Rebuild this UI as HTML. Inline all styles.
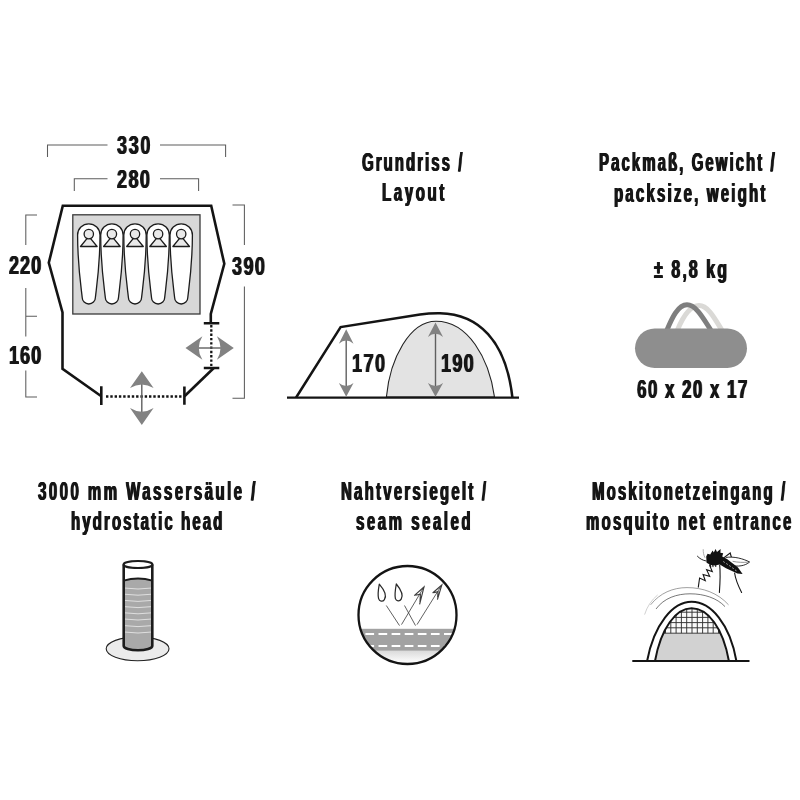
<!DOCTYPE html>
<html lang="de">
<head>
<meta charset="utf-8">
<title>Zelt – Grundriss / Layout</title>
<style>
html,body{margin:0;padding:0;background:#fff;}
body{width:800px;height:800px;overflow:hidden;position:relative;}
svg{position:absolute;left:0;top:0;display:block;}
.t{position:absolute;margin:0;white-space:nowrap;font-family:"Liberation Sans",sans-serif;font-weight:bold;color:#161616;font-size:24px;line-height:24px;transform-origin:0 0;will-change:transform;}
.dim{stroke:#5c5c5c;stroke-width:1.05;fill:none;}
.tent{stroke:#141414;stroke-width:2.6;fill:none;stroke-linejoin:miter;stroke-linecap:butt;}
.dots{stroke:#141414;stroke-width:2.3;fill:none;stroke-dasharray:2.4 1.9;}
.arr{fill:#828282;}
.arl{stroke:#606060;stroke-width:1.4;fill:none;}
</style>
</head>
<body>
<svg width="800" height="800" viewBox="0 0 800 800">
<defs>
  <g id="bag">
    <path d="M0,11.2 A11.2,11.2 0 0 1 22.4,11.2 C22.4,40 19.6,58 17.8,73.6 A6.6,6.6 0 0 1 4.6,73.6 C2.8,58 0,40 0,11.2 Z" fill="#fff" stroke="#1c1c1c" stroke-width="1.3"/>
    <path d="M2.9,22.7 L11.2,12.6 L19.5,22.7 Z" fill="#e9e9e9" stroke="#1c1c1c" stroke-width="1.3" stroke-linejoin="round"/>
    <circle cx="11.2" cy="10.3" r="4.7" fill="#e9e9e9" stroke="#1c1c1c" stroke-width="1.3"/>
  </g>
  <path id="ah" d="M0,0 L11.8,16.9 Q0,9.6 -11.8,16.9 Z"/>
</defs>

<!-- ============ FLOOR PLAN ============ -->
<g id="floorplan">
  <!-- dimension brackets -->
  <path class="dim" d="M47.5,157 V145 H107.5 M160,145 H225.6 V157"/>
  <path class="dim" d="M74.3,191 V178.8 H107.5 M160,178.8 H198.6 V191"/>
  <path class="dim" d="M37,215 H25.8 V245 M25.8,288 V336.5 M25.8,316.3 H37 M25.8,370.5 V397 H37"/>
  <path class="dim" d="M232.5,205 H244.4 V245 M244.4,286.5 V398.2 H232.5"/>

  <!-- inner cabin -->
  <rect x="72.8" y="214.8" width="127.2" height="99.2" fill="#d8d8d8" stroke="#3a3a3a" stroke-width="1.3"/>
  <use href="#bag" x="77.6" y="223.8"/>
  <use href="#bag" x="100.7" y="223.8"/>
  <use href="#bag" x="123.8" y="223.8"/>
  <use href="#bag" x="146.9" y="223.8"/>
  <use href="#bag" x="170" y="223.8"/>

  <!-- tent outline -->
  <path class="tent" d="M101.3,396.3 L62.5,368.8 V312.5 L48.8,262.8 L62.8,205.8 H211.2 L224.3,263.8 L210.8,313.8 V323.3"/>
  <path class="tent" d="M213.8,368 L184.5,396.3"/>
  <path class="tent" d="M101.3,386.3 V405 M184.4,386.5 V404.8 M203.8,323.3 H219.3 M203.8,368 H219.3"/>
  <path class="dots" d="M106,396.5 H182"/>
  <path class="dots" d="M211.3,325 V367"/>
  <!-- arrows -->
  <path class="arl" d="M141.8,380 V416"/>
  <use href="#ah" class="arr" transform="translate(141.8,371.2)"/>
  <use href="#ah" class="arr" transform="translate(141.8,425) rotate(180)"/>
  <path class="arl" d="M196,348 H225"/>
  <use href="#ah" class="arr" transform="translate(185.5,348) rotate(-90)"/>
  <use href="#ah" class="arr" transform="translate(233.8,348) rotate(90)"/>
</g>

<!-- ============ SECTION ============ -->
<g id="section">
  <path d="M386.4,397 C390,358 410,321.2 436,321.2 C468,321.2 489,358 494.5,397 Z" fill="#e3e3e3" stroke="#222" stroke-width="1.1"/>
  <path class="tent" style="stroke-width:2.3" d="M287,397.6 H519"/>
  <path class="tent" style="stroke-width:2.5" d="M296.1,397.5 L340.6,327.1 L420,314.6 Q430,313 440,313.2 C478,314 506,340 512.4,397.5"/>
  <path class="arl" d="M346.2,338 V388"/>
  <use href="#ah" class="arr" transform="translate(346.2,329.2) scale(0.62,0.86)"/>
  <use href="#ah" class="arr" transform="translate(346.2,396.8) rotate(180) scale(0.62,0.82)"/>
  <path class="arl" d="M435.5,332 V388"/>
  <use href="#ah" class="arr" transform="translate(435.5,322.4) scale(0.64,0.86)"/>
  <use href="#ah" class="arr" transform="translate(435.5,396.8) rotate(180) scale(0.64,0.82)"/>
</g>

<!-- ============ PACK SIZE ============ -->
<g id="pack">
  <path d="M677.5,330 C682.5,318 690,305.6 699,305.6 C708,305.6 714.5,318 721.8,330" fill="none" stroke="#dad9d6" stroke-width="5"/>
  <path d="M667,330 C672,318 678,304.8 687,304.8 C696,304.8 703,318 710.8,330" fill="none" stroke="#7e7e7e" stroke-width="5"/>
  <rect x="635" y="328.6" width="112" height="39.4" rx="19.7" ry="19.7" fill="#8e8e8e"/>
</g>

<!-- ============ HYDROSTATIC HEAD ============ -->
<g id="hydro">
  <ellipse cx="137.6" cy="648.8" rx="31.4" ry="11.9" fill="#ebebeb" stroke="#222" stroke-width="1.1"/>
  <path d="M123.5,580.5 Q138,576.5 152.5,580.5 V646 A14.5,4.2 0 0 1 123.5,646 Z" fill="#a9a9a9"/>
  <g stroke="#e4e4e4" stroke-width="0.9" fill="none">
    <path d="M124,588 Q138,590 152,588"/><path d="M124,594.2 Q138,596.2 152,594.2"/><path d="M124,600.4 Q138,602.4 152,600.4"/>
    <path d="M124,606.6 Q138,608.6 152,606.6"/><path d="M124,612.8 Q138,614.8 152,612.8"/><path d="M124,619 Q138,621 152,619"/>
    <path d="M124,625.6 Q138,627.6 152,625.6"/><path d="M124,632 Q138,634 152,632"/>
  </g>
  <path d="M123.6,580.6 Q138,576.4 152.4,580.6" fill="none" stroke="#1c1c1c" stroke-width="2"/>
  <path d="M123.7,564.5 V646 A14.3,4.2 0 0 0 152.3,646 V564.5" fill="none" stroke="#1c1c1c" stroke-width="2.6"/>
  <ellipse cx="138" cy="564.5" rx="14.4" ry="3.5" fill="#fff" stroke="#1c1c1c" stroke-width="2.2"/>
</g>

<!-- ============ SEAM SEALED ============ -->
<g id="seam">
  <clipPath id="cc"><circle cx="407.5" cy="615" r="49"/></clipPath>
  <g clip-path="url(#cc)">
    <linearGradient id="lg" x1="0" y1="0" x2="0" y2="1"><stop offset="0" stop-color="#d8d8d8"/><stop offset="1" stop-color="#ffffff"/></linearGradient>
    <rect x="355" y="650" width="105" height="13" fill="url(#lg)"/>
    <rect x="355" y="628.8" width="105" height="21.8" fill="#a2a2a2"/>
    <path d="M365.4,634 H460 M365.4,646 H460" stroke="#fff" stroke-width="2" stroke-dasharray="8.7 4.4" fill="none"/>
  </g>
  <g fill="none" stroke="#2a2a2a" stroke-width="1.25" stroke-linejoin="round">
    <path d="M379.3,584.2 C378.4,589 377.6,595 378.6,598.6 C379.4,601.4 382.6,602.2 384.4,599.6 C387.2,595.6 384.6,590.4 379.3,584.2 Z"/>
    <path d="M396.3,584 C395.4,589 394.5,595 395.4,598.6 C396.2,601.2 399.6,601.8 401.2,599.2 C403.8,595 401.4,590.2 396.3,584 Z"/>
  </g>
  <g fill="none" stroke="#444" stroke-width="0.85">
    <path d="M386.3,605.5 L399.5,625.6 M401.5,624.6 L423.6,587.6"/>
    <path d="M404.5,605.5 L415.5,625.6 M417,624.6 L441.4,585.6"/>
  </g>
  <g fill="none" stroke="#3c3c3c" stroke-width="1.15" stroke-linejoin="miter">
    <path d="M414.2,595.6 L424,587 L419.6,604.4 M415.4,595.2 L420.4,594.2 L420,602"/>
    <path d="M432.6,593 L441.8,585 L437.4,599.6 M433.8,592.6 L438,591.8 L437.6,597.6"/>
  </g>
  <circle cx="407.5" cy="615" r="49" fill="none" stroke="#141414" stroke-width="2.3"/>
</g>

<!-- ============ MOSQUITO NET ============ -->
<g id="mosq">
  <clipPath id="mc"><path d="M655,661 C661,628 676,608.3 691.6,608.3 C708,608.3 723,628 728.9,661 Z"/></clipPath>
  <g clip-path="url(#mc)">
    <rect x="650" y="600" width="90" height="34" fill="#fafafa"/>
    <rect x="650" y="633.6" width="90" height="28" fill="#d2d2d2"/>
    <path d="M650,612.2 H740 M650,617.4 H740 M650,622.6 H740 M650,627.8 H740 M650,633.2 H740 M665.5,600 V633.2 M670.8,600 V633.2 M676.1,600 V633.2 M681.4,600 V633.2 M686.7,600 V633.2 M692,600 V633.2 M697.3,600 V633.2 M702.6,600 V633.2 M707.9,600 V633.2 M713.2,600 V633.2 M718.5,600 V633.2" stroke="#333" stroke-width="0.95" fill="none"/>
  </g>
  <path d="M655,661 C661,628 676,608.3 691.6,608.3 C708,608.3 723,628 728.9,661" fill="none" stroke="#141414" stroke-width="2"/>
  <path d="M647.1,661 C654,624 673,601.8 691.6,601.8 C711,601.8 730,624 736.4,661" fill="none" stroke="#141414" stroke-width="2"/>
  <path d="M632.3,661.1 H749.5" fill="none" stroke="#141414" stroke-width="2"/>
  <path d="M656,609 C664,598 677,593.8 690,593.8 C704,593.8 717,598 725,606.6" fill="none" stroke="#555" stroke-width="0.8"/>
  <path d="M650.6,604.8 C660,593 673,587.6 687,587.6 C703,587.6 718,593 728.5,604.8" fill="none" stroke="#777" stroke-width="0.7"/>
  <path d="M644.6,614.6 C647,606.6 651.6,600 657.6,595" fill="none" stroke="#bdbdbd" stroke-width="0.7"/>
  <!-- mosquito -->
  <g fill="none" stroke="#151515" stroke-width="1.1" stroke-linejoin="miter" stroke-linecap="round">
    <path d="M698.3,587.2 L699.6,578 L705.3,580.7 L703.1,574.5 L709.7,576.3 L706.6,569.7 L712.3,571.5 L709.7,565.6"/>
    <path d="M706.2,561 C702.6,560.4 699.6,558.6 697.4,556.2" stroke-width="0.9"/>
    <path d="M704.9,557.5 C703.6,555 703.2,552.4 703.2,549.6" stroke="#999" stroke-width="0.8"/>
    <path d="M719.7,565 C720.6,574 720,584 719.4,592.4"/>
    <path d="M734.6,573 C735.6,580 738.6,586.6 741.6,592.4"/>
    <path d="M724,557.6 L730.2,553 L731.6,558"/>
    <path d="M726,557.4 C734,556.2 743,558.6 749.6,562 C745,566 738,567 730.6,565.4" fill="#fff" stroke-width="0.9"/>
    <path d="M733,561.4 C738,562.4 743,562.6 748,562.2" stroke="#666" stroke-width="0.7"/>
    <path d="M709.6,563 L710.8,567 M712.6,563.4 L713,566.6 M715.6,563.6 L715.8,566.4"/>
  </g>
  <path d="M706.2,556.4 L707.6,553.8 L710.2,554.4 L712.6,550.6 L713.8,552.6 L715.6,549 L717,552 L720.6,549 L720.4,552.8 L723.2,553.2 L722.2,556.6 L727,559 L738,567.6 L742.6,574 L737.4,573.6 L726,568.2 L719.8,564.6 L714.6,565.6 L710.6,565 L706.6,562.8 Z" fill="#111"/>
  <path d="M723.4,561.6 l1.2,0.8 M726.4,563.6 l1.2,0.8 M729.4,565.6 l1.2,0.8 M732.4,567.8 l1.2,0.8 M735.2,570 l1.2,0.8" stroke="#ddd" stroke-width="0.9" fill="none"/>
</g>
</svg>
<!--TEXT-->
<div class="t" style="left:116.69px;top:133.34px;font-size:25px;line-height:25px;letter-spacing:2.349px;transform:scaleX(0.72);text-shadow:0.76px 0 0 #161616,-0.76px 0 0 #161616">330</div>
<div class="t" style="left:117.19px;top:166.54px;font-size:25px;line-height:25px;letter-spacing:2.002px;transform:scaleX(0.72);text-shadow:0.76px 0 0 #161616,-0.76px 0 0 #161616">280</div>
<div class="t" style="left:8.69px;top:252.94px;font-size:25px;line-height:25px;letter-spacing:1.446px;transform:scaleX(0.72);text-shadow:0.76px 0 0 #161616,-0.76px 0 0 #161616">220</div>
<div class="t" style="left:232.39px;top:254.24px;font-size:25px;line-height:25px;letter-spacing:2.002px;transform:scaleX(0.72);text-shadow:0.76px 0 0 #161616,-0.76px 0 0 #161616">390</div>
<div class="t" style="left:8.69px;top:342.74px;font-size:25px;line-height:25px;letter-spacing:1.446px;transform:scaleX(0.72);text-shadow:0.76px 0 0 #161616,-0.76px 0 0 #161616">160</div>
<div class="t" style="left:351.79px;top:350.64px;font-size:25px;line-height:25px;letter-spacing:2.141px;transform:scaleX(0.72);text-shadow:0.76px 0 0 #161616,-0.76px 0 0 #161616">170</div>
<div class="t" style="left:440.69px;top:350.64px;font-size:25px;line-height:25px;letter-spacing:1.863px;transform:scaleX(0.72);text-shadow:0.76px 0 0 #161616,-0.76px 0 0 #161616">190</div>
<div class="t" style="left:362.32px;top:150.24px;font-size:25px;line-height:25px;letter-spacing:3.388px;transform:scaleX(0.6);text-shadow:0.92px 0 0 #161616,-0.92px 0 0 #161616">Grundriss /</div>
<div class="t" style="left:382.32px;top:180.24px;font-size:25px;line-height:25px;letter-spacing:4.393px;transform:scaleX(0.6);text-shadow:0.92px 0 0 #161616,-0.92px 0 0 #161616">Layout</div>
<div class="t" style="left:599.33px;top:150.44px;font-size:25px;line-height:25px;letter-spacing:3.407px;transform:scaleX(0.6);text-shadow:0.92px 0 0 #161616,-0.92px 0 0 #161616">Packmaß, Gewicht /</div>
<div class="t" style="left:614.33px;top:181.24px;font-size:25px;line-height:25px;letter-spacing:3.664px;transform:scaleX(0.6);text-shadow:0.92px 0 0 #161616,-0.92px 0 0 #161616">packsize, weight</div>
<div class="t" style="left:653.68px;top:257.24px;font-size:25px;line-height:25px;letter-spacing:3.225px;transform:scaleX(0.64);text-shadow:0.86px 0 0 #161616,-0.86px 0 0 #161616">± 8,8 kg</div>
<div class="t" style="left:636.84px;top:376.84px;font-size:25px;line-height:25px;letter-spacing:2.112px;transform:scaleX(0.68);text-shadow:0.81px 0 0 #161616,-0.81px 0 0 #161616">60 x 20 x 17</div>
<div class="t" style="left:38.33px;top:479.24px;font-size:25px;line-height:25px;letter-spacing:4.122px;transform:scaleX(0.6);text-shadow:0.92px 0 0 #161616,-0.92px 0 0 #161616">3000 mm Wassersäule /</div>
<div class="t" style="left:71.33px;top:509.04px;font-size:25px;line-height:25px;letter-spacing:3.479px;transform:scaleX(0.6);text-shadow:0.92px 0 0 #161616,-0.92px 0 0 #161616">hydrostatic head</div>
<div class="t" style="left:340.62px;top:479.24px;font-size:25px;line-height:25px;letter-spacing:3.704px;transform:scaleX(0.6);text-shadow:0.92px 0 0 #161616,-0.92px 0 0 #161616">Nahtversiegelt /</div>
<div class="t" style="left:356.12px;top:509.24px;font-size:25px;line-height:25px;letter-spacing:4.220px;transform:scaleX(0.6);text-shadow:0.92px 0 0 #161616,-0.92px 0 0 #161616">seam sealed</div>
<div class="t" style="left:591.73px;top:479.04px;font-size:25px;line-height:25px;letter-spacing:3.573px;transform:scaleX(0.6);text-shadow:0.92px 0 0 #161616,-0.92px 0 0 #161616">Moskitonetzeingang /</div>
<div class="t" style="left:586.33px;top:508.64px;font-size:25px;line-height:25px;letter-spacing:3.708px;transform:scaleX(0.6);text-shadow:0.92px 0 0 #161616,-0.92px 0 0 #161616">mosquito net entrance</div>
<!--/TEXT-->
</body>
</html>
